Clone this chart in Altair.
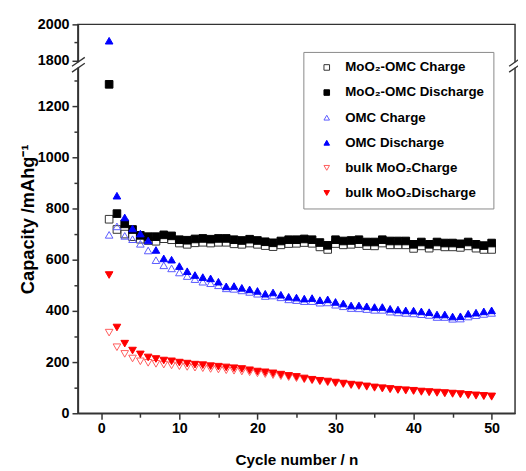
import altair as alt
import pandas as pd

cycles = list(range(1, 51))

series_names = [
    "MoO₂-OMC Charge",
    "MoO₂-OMC Discharge",
    "OMC Charge",
    "OMC Discharge",
    "bulk MoO₂Charge",
    "bulk MoO₂Discharge",
]

mo_omc_charge = [758, 718, 700, 690, 680, 675, 672, 682, 678, 665, 660, 666, 668, 665, 668, 668, 662,
                 660, 665, 660, 655, 651, 658, 663, 664, 667, 664, 650, 640, 663, 658, 660, 663, 655,
                 654, 665, 658, 658, 658, 644, 654, 645, 654, 650, 650, 648, 654, 645, 640, 640]
mo_omc_discharge = [1285, 780, 740, 718, 695, 690, 690, 697, 693, 678, 676, 681, 683, 680, 683, 683, 678,
                    675, 680, 675, 670, 666, 673, 678, 678, 681, 678, 667, 656, 678, 673, 675, 678, 669,
                    669, 678, 673, 673, 673, 660, 669, 660, 669, 665, 665, 662, 669, 660, 655, 665]
omc_charge = [697, 730, 693, 680, 662, 636, 598, 578, 566, 550, 536, 524, 514, 508, 500, 488, 486,
              480, 474, 467, 458, 460, 453, 445, 442, 438, 438, 432, 433, 424, 418, 411, 410, 407,
              404, 404, 397, 394, 392, 390, 387, 384, 376, 376, 369, 370, 378, 383, 388, 392]
omc_discharge = [1910, 850, 765, 722, 702, 675, 638, 605, 600, 575, 555, 540, 532, 527, 514, 496, 497,
                 490, 484, 478, 467, 472, 463, 455, 452, 448, 450, 442, 445, 435, 429, 421, 421, 418,
                 415, 415, 408, 405, 402, 401, 398, 395, 386, 386, 378, 379, 389, 393, 398, 402]
bulk_charge = [315, 258, 232, 214, 203, 197, 193, 190, 187, 184, 181, 178, 176, 173, 171, 168, 166,
               163, 160, 156, 153, 149, 145, 141, 137, 132, 128, 124, 120, 117, 113, 109, 106, 103,
               99, 96, 93, 90, 88, 86, 83, 81, 79, 77, 75, 73, 70, 68, 66, 64]
bulk_discharge = [540, 335, 272, 245, 230, 218, 212, 206, 203, 198, 194, 190, 188, 184, 182, 179, 176,
                  173, 168, 163, 160, 156, 151, 146, 142, 136, 131, 127, 124, 120, 116, 112, 109, 105,
                  101, 98, 95, 92, 90, 88, 85, 83, 81, 79, 77, 75, 72, 70, 68, 66]

all_values = [mo_omc_charge, mo_omc_discharge, omc_charge, omc_discharge, bulk_charge, bulk_discharge]

rows = []
for name, vals in zip(series_names, all_values):
    for c, v in zip(cycles, vals):
        rows.append({"cycle": c, "capacity": v, "series": name})
df = pd.DataFrame(rows)

stroke_colors = ["#333333", "#000000", "#5a5aff", "#0000ff", "#ff5a5a", "#ff0000"]
fill_colors = ["transparent", "#000000", "transparent", "#0000ff", "transparent", "#ff0000"]
shapes = ["square", "square", "triangle-up", "triangle-up", "triangle-down", "triangle-down"]

W, H = 444, 395
y_scale = alt.Scale(domain=[0, 1350, 1762, 2000], range=[H, 44, 43.9, 0], zero=False, nice=False)
x_scale = alt.Scale(domain=[-3, 53], zero=False, nice=False)

y_ticks = list(range(0, 1301, 100)) + [1800, 1900, 2000]
x_ticks = list(range(0, 51, 5))

points = alt.Chart(df).mark_point(filled=True, opacity=1, strokeWidth=1, size=60).encode(
    x=alt.X("cycle:Q", scale=x_scale,
            axis=alt.Axis(values=x_ticks, title="Cycle number / n",
                          labelExpr="datum.value % 10 === 0 ? datum.label : ''",
                          tickSize={"condition": {"test": "datum.value % 10 === 0", "value": 6}, "value": 4},
                          titlePadding=18)),
    y=alt.Y("capacity:Q", scale=y_scale,
            axis=alt.Axis(values=y_ticks, title="Capacity /mAhg⁻¹", format="d",
                          labelExpr="datum.value % 200 === 0 ? datum.label : ''",
                          tickSize={"condition": {"test": "datum.value % 200 === 0", "value": 6}, "value": 4},
                          titlePadding=0, titleFontSize=18.5)),
    stroke=alt.Stroke("series:N", scale=alt.Scale(domain=series_names, range=stroke_colors), title=None),
    fill=alt.Fill("series:N", scale=alt.Scale(domain=series_names, range=fill_colors), title=None),
    shape=alt.Shape("series:N", scale=alt.Scale(domain=series_names, range=shapes), title=None),
)

one = alt.Data(values=[{"k": 1}])

# axis break decorations (left axis and right frame)
cover_left = alt.Chart(one).mark_rule(color="white", strokeWidth=5).encode(
    x=alt.value(0), y=alt.value(38.5), y2=alt.value(44))
cover_right = alt.Chart(one).mark_rule(color="white", strokeWidth=5).encode(
    x=alt.value(W), y=alt.value(38.5), y2=alt.value(44))
slash1 = alt.Chart(one).mark_rule(color="#333", strokeWidth=1.3).encode(
    x=alt.value(-6), x2=alt.value(7), y=alt.value(42.5), y2=alt.value(33.5))
slash2 = alt.Chart(one).mark_rule(color="#333", strokeWidth=1.3).encode(
    x=alt.value(-6), x2=alt.value(7), y=alt.value(48.5), y2=alt.value(39.5))
slash3 = alt.Chart(one).mark_rule(color="#333", strokeWidth=1.3).encode(
    x=alt.value(W - 6), x2=alt.value(W + 7), y=alt.value(42.5), y2=alt.value(33.5))
slash4 = alt.Chart(one).mark_rule(color="#333", strokeWidth=1.3).encode(
    x=alt.value(W - 6), x2=alt.value(W + 7), y=alt.value(48.5), y2=alt.value(39.5))

chart = alt.layer(points, cover_left, cover_right, slash1, slash2, slash3, slash4).properties(
    width=W, height=H,
    autosize=alt.AutoSizeParams(type="none"),
    padding={"left": 71, "top": 13, "right": 3, "bottom": 55},
).configure_view(
    stroke="#333", strokeWidth=1.5
).configure_axis(
    grid=False,
    domainColor="#333", domainWidth=1.5,
    tickColor="#333", tickWidth=1.5,
    labelFont="Liberation Sans", labelFontWeight="bold", labelFontSize=14.5, labelColor="black",
    labelPadding=3,
    titleFont="Liberation Sans", titleFontWeight="bold", titleFontSize=15.5, titleColor="black",
).configure_legend(
    orient="none", legendX=229, legendY=28,
    strokeColor="#888", fillColor="white", padding=9,
    labelFont="Liberation Sans", labelFontWeight="bold", labelFontSize=13.5, labelColor="black",
    symbolSize=32, symbolStrokeWidth=1, symbolOffset=8, rowPadding=10.5, labelOffset=12, labelLimit=0,
)

chart.save("out.html", embed_options={"renderer": "svg", "actions": False})
